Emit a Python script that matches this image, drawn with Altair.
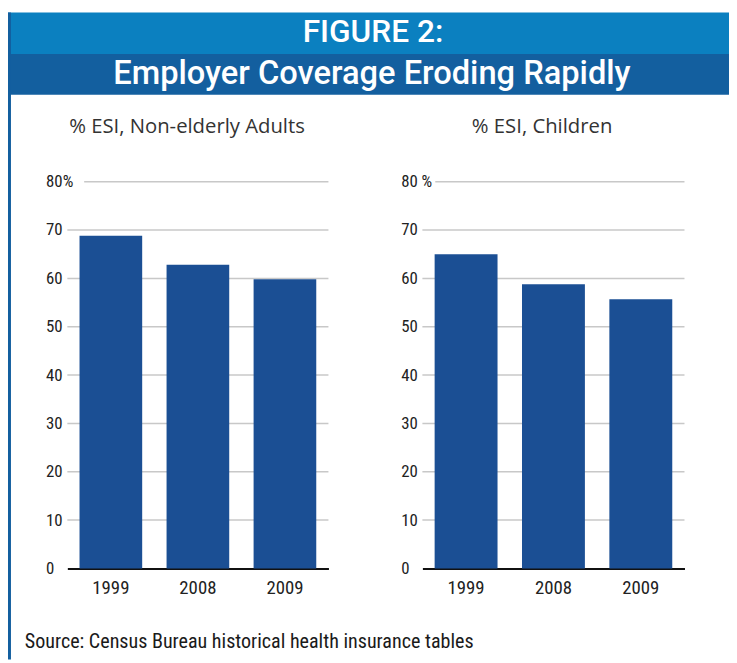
import altair as alt
import pandas as pd

# ---- data ----
years = ["1999", "2008", "2009"]
adults = [68.8, 62.8, 59.8]
children = [65.0, 58.8, 55.7]
y_ticks = [0, 10, 20, 30, 40, 50, 60, 70, 80]
grid_vals = [10, 20, 30, 40, 50, 60, 70, 80]

figure_label = "FIGURE 2:"
headline = "Employer Coverage Eroding Rapidly"
left_title = "% ESI, Non-elderly Adults"
right_title = "% ESI, Children"
source_text = "Source: Census Bureau historical health insurance tables"

# ---- styling ----
W, H = 729, 655
BAR = "#1b4f94"
LIGHT = "#0b80c0"
DARK = "#135f9f"
GRID = "#c8c8c8"
NARROW = "Roboto Condensed, Liberation Sans Narrow, DejaVu Sans Condensed, Roboto"
HUMAN = "Open Sans"
HEAD = "Roboto"

one = pd.DataFrame({"k": [0]})


def box(x, x2, y, y2, color):
    return alt.Chart(one).mark_rect(color=color).encode(
        x=alt.value(x), x2=alt.value(x2), y=alt.value(y), y2=alt.value(y2)
    )


def label(text, x, y, font, size, color, align="center", weight="normal"):
    return alt.Chart(one).mark_text(
        text=text, font=font, fontSize=size, color=color, align=align,
        baseline="alphabetic", fontWeight=weight
    ).encode(x=alt.value(x), y=alt.value(y))


def panel(values, x0, x1, y0, y1, top_label, grid80_start):
    df = pd.DataFrame({"year": years, "value": values})
    gdf = pd.DataFrame({"value": grid_vals})
    yscale = alt.Scale(domain=[0, 80], range=[y0, y1], nice=False)
    yaxis = alt.Axis(
        orient="left", offset=-x0, values=y_ticks, labelAlign="left",
        labelBaseline="middle", labelPadding=22, ticks=False, tickSize=0,
        domain=False, grid=False, title=None,
        labelExpr=f"datum.value == 80 ? '{top_label}' : datum.label",
        labelFont=NARROW, labelFontSize=17, labelColor="#222222",
    )
    xaxis = alt.Axis(
        orient="bottom", offset=-(H - y0), ticks=False, tickSize=0,
        labelPadding=10, labelAngle=0, labelFont=NARROW, labelFontSize=19,
        labelColor="#222222", domainColor="#111111", domainWidth=2,
        grid=False, title=None,
    )
    grid_low = alt.Chart(gdf).transform_filter("datum.value < 80").mark_rule(
        color=GRID, strokeWidth=1.5).encode(
        y=alt.Y("value:Q", scale=yscale, axis=yaxis),
        x=alt.value(x0), x2=alt.value(x1),
    )
    grid_top = alt.Chart(gdf).transform_filter("datum.value == 80").mark_rule(
        color=GRID, strokeWidth=1.5).encode(
        y=alt.Y("value:Q", scale=yscale, axis=yaxis),
        x=alt.value(grid80_start), x2=alt.value(x1),
    )
    bars = alt.Chart(df).mark_bar(color=BAR).encode(
        x=alt.X("year:N", sort=years,
                scale=alt.Scale(range=[x0, x1], paddingInner=0.28, paddingOuter=0.14),
                axis=xaxis),
        y=alt.Y("value:Q", scale=yscale, axis=yaxis),
    )
    return alt.layer(grid_low, grid_top, bars)


deco = alt.layer(
    box(0, W, 1, 43, LIGHT),
    box(0, W, 43, 84, DARK),
    box(0, 3, 1, H, DARK),
    label(figure_label, 369, 31, HEAD, 32, "white", weight=500),
    label(headline, 368, 73, HEAD, 33, "white", weight=500),
    label(left_title, 181, 123, HUMAN, 20.5, "#333333"),
    label(right_title, 540, 123, HUMAN, 20.5, "#333333"),
    label(source_text, 17, 643, NARROW, 20.3, "#1a1a1a", align="left"),
)

left = panel(adults, 60, 324, 563, 172, "80%", 77)
right = panel(children, 419, 684, 563, 172, "80 %", 432)

chart = (
    alt.layer(deco, left, right)
    .resolve_scale(x="independent", y="independent")
    .properties(width=W, height=H, padding=0,
                autosize=alt.AutoSizeParams(type="none"), background="white")
    .configure_view(stroke=None)
)

chart.save("out.html", embed_options={"renderer": "svg", "actions": False})
